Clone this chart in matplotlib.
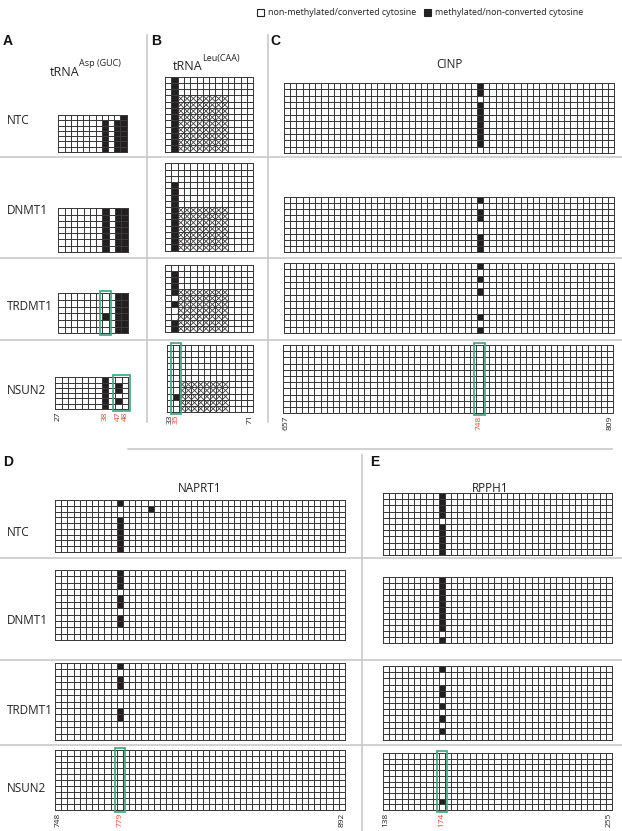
import numpy as np
import matplotlib
matplotlib.use('Agg')
import matplotlib.pyplot as plt
from matplotlib.patches import Rectangle
from matplotlib.collections import LineCollection
from matplotlib.colors import ListedColormap

# ---------------- data ----------------
rows = ["NTC", "DNMT1", "TRDMT1", "NSUN2"]

# '0' unmethylated, '1' methylated, 'x' not analysed (crossed), '_' no cell
asp_ntc = ["_________01"] + ["00000001011"] * 6
asp_dnmt1 = ["00000001011"] * 7
asp_trdmt1 = ["00000000011"] * 3 + ["00000001011"] + ["00000000011"] * 2
asp_nsun2 = ["00000001000", "00000001010", "00000001010",
             "00000001000", "00000001010", "00000001000"]
asp_labels = [(0, "27", "k"), (7, "38", "r"), (9, "47", "r"), (10, "48", "r")]

def leu(col1, xrows, n):
    out = []
    for i in range(n):
        r = "0" + ("1" if col1[i] == "1" else "0")
        r += ("x" * 8 if i in xrows else "0" * 8) + "0000"
        out.append(r)
    return out

leu_ntc = leu("111111111111", range(3, 12), 12)
leu_dnmt1 = leu("00011111111111", range(7, 14), 14)
leu_trdmt1 = leu("01111010011", range(4, 11), 11)
leu_nsun2 = leu("00000000100", range(6, 11), 11)
leu_labels = [(0, "33", "k"), (1, "35", "r"), (13, "71", "k")]

def site(pattern, ncol, col):
    return ["0" * col + p + "0" * (ncol - col - 1) for p in pattern]

cinp_ntc = site("11011111110", 53, 31)
cinp_dnmt1 = site("101100111", 53, 31)
cinp_trdmt1 = site("10101000101", 53, 31)
cinp_nsun2 = site("00000000000", 53, 31)
cinp_labels = [(0, "657", "k"), (31, "748", "r"), (52, "809", "k")]

naprt_ntc = site("100111111", 47, 10)
naprt_ntc[1] = naprt_ntc[1][:15] + "1" + naprt_ntc[1][16:]
naprt_dnmt1 = site("11101101100", 47, 10)
naprt_trdmt1 = site("101100011000", 47, 10)
naprt_nsun2 = site("0000000000", 47, 10)
naprt_labels = [(0, "748", "k"), (10, "779", "r"), (46, "892", "k")]

rpph_ntc = site("1111011111", 37, 9)
rpph_dnmt1 = site("11111111101", 37, 9)
rpph_trdmt1 = site("100110101010", 37, 9)
rpph_nsun2 = site("0000000010", 37, 9)
rpph_labels = [(0, "138", "k"), (9, "174", "r"), (36, "255", "k")]

# ---------------- style ----------------
W, H = 622, 831
FONT = ["Open Sans", "DejaVu Sans"]
RED = "#e8462e"
GREEN = "#3aa57c"
BLACK = "#231f20"
GRIDC = "#3a3a3a"
SEP = "#c9c9c9"

fig = plt.figure(figsize=(W / 100, H / 100), dpi=100)
ax = fig.add_axes([0, 0, 1, 1])
ax.set_xlim(0, W)
ax.set_ylim(H, 0)
ax.axis("off")

cmap = ListedColormap(["white", BLACK])


def draw_grid(mat, box, hl=None, labels=None, hl_pad=(2, 2)):
    x0, y0, x1, y1 = box
    nr, nc = len(mat), len(mat[0])
    xs = np.linspace(x0, x1, nc + 1)
    ys = np.linspace(y0, y1, nr + 1)
    code = {"0": 0.0, "1": 1.0, "x": 0.0, "_": np.nan}
    vals = np.array([[code[c] for c in r] for r in mat])
    ax.pcolormesh(xs, ys, np.ma.masked_invalid(vals), cmap=cmap, vmin=0, vmax=1,
                  edgecolors=GRIDC, linewidth=0.6)
    segs = []
    for i, r in enumerate(mat):
        for j, c in enumerate(r):
            if c == "x":
                segs.append([(xs[j], ys[i]), (xs[j + 1], ys[i + 1])])
                segs.append([(xs[j], ys[i + 1]), (xs[j + 1], ys[i])])
    if segs:
        ax.add_collection(LineCollection(segs, colors=GRIDC, linewidths=0.6))
    if hl is not None:
        c0, c1 = hl
        ax.add_patch(Rectangle((xs[c0] - hl_pad[0], y0 - hl_pad[1]),
                               xs[c1 + 1] - xs[c0] + 2 * hl_pad[0],
                               y1 - y0 + 2 * hl_pad[1],
                               fill=False, ec=GREEN, lw=1.2, zorder=5))
    if labels:
        for c, t, col in labels:
            ax.text((xs[c] + xs[c + 1]) / 2, y1 + 2.5, t, rotation=90, ha="center",
                    va="top", fontsize=6, color=RED if col == "r" else "#222222",
                    family=FONT)


def txt(x, y, s, size=8.5, **kw):
    ax.text(x, y, s, fontsize=size, family=FONT, color="#222222", **kw)

# ---------------- legend ----------------
ax.add_patch(Rectangle((257, 8.5), 7, 7, fill=False, ec="#222222", lw=0.8))
txt(268, 12.5, "non-methylated/converted cytosine", 6.4, va="center")
ax.add_patch(Rectangle((424, 8.5), 7, 7, fc="#222222", ec="#222222", lw=0.8))
txt(435, 12.5, "methylated/non-converted cytosine", 6.4, va="center")

# ---------------- separators ----------------
for y in [157, 258, 340]:
    ax.plot([0, W], [y, y], color=SEP, lw=1.2)
ax.plot([147, 147], [35, 422], color=SEP, lw=1.2)
ax.plot([268, 268], [35, 422], color=SEP, lw=1.2)
ax.plot([128, 612], [449, 449], color=SEP, lw=1.2)
for y in [558, 660, 745]:
    ax.plot([0, W], [y, y], color=SEP, lw=1.2)
ax.plot([362, 362], [455, 831], color=SEP, lw=1.2)

# ---------------- panel letters ----------------
for x, y, s in [(3, 41, "A"), (151, 41, "B"), (270, 41, "C"), (3, 462, "D"), (370, 462, "E")]:
    ax.text(x, y, s, fontsize=10, fontweight="bold", family="Liberation Sans",
            va="center", ha="left", color="#111111")

# ---------------- titles ----------------
txt(79, 72, "tRNA", 9, ha="right", va="center")
txt(79, 64, "Asp (GUC)", 6.5, ha="left", va="center")
txt(202, 66, "tRNA", 9, ha="right", va="center")
txt(202, 58, "Leu(CAA)", 6.5, ha="left", va="center")
txt(449, 65, "CINP", 8.5, ha="center", va="center")
txt(200, 488, "NAPRT1", 8.5, ha="center", va="center")
txt(490, 488, "RPPH1", 8.5, ha="center", va="center")

# ---------------- row labels ----------------
for y, s in zip([121, 211, 307, 390], rows):
    txt(7, y, s, 8.5, va="center")
for y, s in zip([533, 620, 710, 788], rows):
    txt(7, y, s, 8.5, va="center")

# ---------------- panel A ----------------
draw_grid(asp_ntc, (58.3, 115, 126.7, 152))
draw_grid(asp_dnmt1, (58.3, 208.3, 127.7, 251.7))
draw_grid(asp_trdmt1, (58.3, 293.3, 127.7, 333.3), hl=(7, 7))
draw_grid(asp_nsun2, (55, 377.3, 128.3, 409), hl=(9, 10), labels=asp_labels)

# ---------------- panel B ----------------
draw_grid(leu_ntc, (165, 76.7, 253.3, 151.7))
draw_grid(leu_dnmt1, (165, 163.3, 253.3, 250.7))
draw_grid(leu_trdmt1, (165, 265, 253.3, 331.7))
draw_grid(leu_nsun2, (166.7, 345, 253.3, 411.7), hl=(1, 1), labels=leu_labels)

# ---------------- panel C ----------------
draw_grid(cinp_ntc, (284, 83, 614, 153))
draw_grid(cinp_dnmt1, (284, 197, 614, 252))
draw_grid(cinp_trdmt1, (284, 263, 614, 333))
draw_grid(cinp_nsun2, (283.3, 345, 613.3, 413.3), hl=(31, 31), labels=cinp_labels)

# ---------------- panel D ----------------
draw_grid(naprt_ntc, (55, 500, 345, 552))
draw_grid(naprt_dnmt1, (55, 570, 345, 640))
draw_grid(naprt_trdmt1, (55, 663, 345, 740))
draw_grid(naprt_nsun2, (55, 750, 345, 810), hl=(10, 10), labels=naprt_labels)

# ---------------- panel E ----------------
draw_grid(rpph_ntc, (383, 493, 612, 555))
draw_grid(rpph_dnmt1, (383, 577, 612, 643))
draw_grid(rpph_trdmt1, (383, 666, 612, 740))
draw_grid(rpph_nsun2, (383, 753, 612, 810), hl=(9, 9), labels=rpph_labels)

fig.savefig("out.png", dpi=100)
